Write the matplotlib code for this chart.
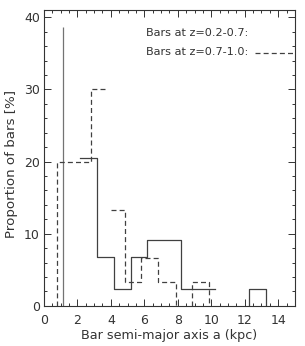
import numpy as np
import matplotlib
matplotlib.use("Agg")
import matplotlib.pyplot as plt
from matplotlib.ticker import MultipleLocator


# ==== Data ====

# bars at z = 0.2-0.7 (solid)
low_z_peak_x = 1.13          # lone spike at the first bin edge
low_z_peak_pct = 38.6
low_z_edges = [2.15, 3.16, 4.19, 5.18, 6.15, 7.17, 8.19, 9.21, 10.24]
low_z_pct = [20.5, 6.8, 2.3, 6.8, 9.1, 9.1, 2.3, 2.3]
low_z_tail_edges = [12.25, 13.25]
low_z_tail_pct = [2.3]

# bars at z = 0.7-1.0 (dashed)
high_z_edges_a = [0.79, 1.8, 2.79, 3.85]
high_z_pct_a = [20.0, 20.0, 30.0]
high_z_edges_b = [4.01, 4.86, 5.82, 6.84, 7.87]
high_z_pct_b = [13.3, 3.3, 6.6, 3.3]
high_z_edges_c = [8.86, 9.86]
high_z_pct_c = [3.3]

xticks = [0, 2, 4, 6, 8, 10, 12, 14]
yticks = [0, 10, 20, 30, 40]


# ==== Helpers ====

def step_xy(edges, vals, left=True, right=True):
    """
    Build the outline of a histogram; left/right say whether the outer
    edges drop to zero.
    """
    xs, ys = [], []
    if left:
        xs.append(edges[0])
        ys.append(0)
    for i, v in enumerate(vals):
        xs += [edges[i], edges[i + 1]]
        ys += [v, v]
    if right:
        xs.append(edges[-1])
        ys.append(0)
    return xs, ys


# ==== Plot ====

plt.rcParams['font.family'] = ['DejaVu Sans']
fig = plt.figure(figsize=(3.05, 3.46), dpi=100)
ax = fig.add_axes([0.144, 0.116, 0.823, 0.855])

line_col = '0.25'
text_col = '0.2'
lw = 0.9
dash = (4, 2.5)

# solid histogram
ax.vlines(low_z_peak_x, 0, low_z_peak_pct, color='0.45', lw=lw)
x, y = step_xy(low_z_edges, low_z_pct, left=False, right=False)
ax.plot(x, y, color=line_col, lw=lw)
x, y = step_xy(low_z_tail_edges, low_z_tail_pct)
ax.plot(x, y, color=line_col, lw=lw)

# dashed histogram
for edges, vals, l, r in [(high_z_edges_a, high_z_pct_a, True, False),
                          (high_z_edges_b, high_z_pct_b, False, True),
                          (high_z_edges_c, high_z_pct_c, True, True)]:
    x, y = step_xy(edges, vals, left=l, right=r)
    ax.plot(x, y, color=line_col, lw=lw, ls=(0, dash))

# legend text
ax.text(0.406, 0.922, 'Bars at z=0.2-0.7:', transform=ax.transAxes,
        fontsize=8.1, va='center', ha='left', color=text_col)
ax.text(0.406, 0.858, 'Bars at z=0.7-1.0:', transform=ax.transAxes,
        fontsize=8.1, va='center', ha='left', color=text_col)
ax.plot([0.84, 1.0], [0.855, 0.855], transform=ax.transAxes,
        color=line_col, lw=lw, ls=(0, dash), clip_on=False)

ax.set_xlim(0, 15)
ax.set_ylim(0, 41)
ax.set_xticks(xticks)
ax.set_yticks(yticks)
ax.xaxis.set_minor_locator(MultipleLocator(0.5))
ax.yaxis.set_minor_locator(MultipleLocator(2))
ax.tick_params(which='both', direction='in', top=True, right=True,
               width=0.7, color='0.2', labelsize=9, labelcolor=text_col)
ax.tick_params(which='major', length=5)
ax.tick_params(which='minor', length=2.5)
ax.tick_params(axis='x', pad=6)
ax.tick_params(axis='y', pad=3)
for s in ax.spines.values():
    s.set_linewidth(0.8)
    s.set_color('0.2')

ax.set_xlabel('Bar semi-major axis a (kpc)', fontsize=9.2, color=text_col)
ax.set_ylabel('Proportion of bars [%]', fontsize=9.6, color=text_col)
ax.xaxis.set_label_coords(0.5, -0.078)
ax.yaxis.set_label_coords(-0.105, 0.48)

fig.savefig('out.png', dpi=100)
